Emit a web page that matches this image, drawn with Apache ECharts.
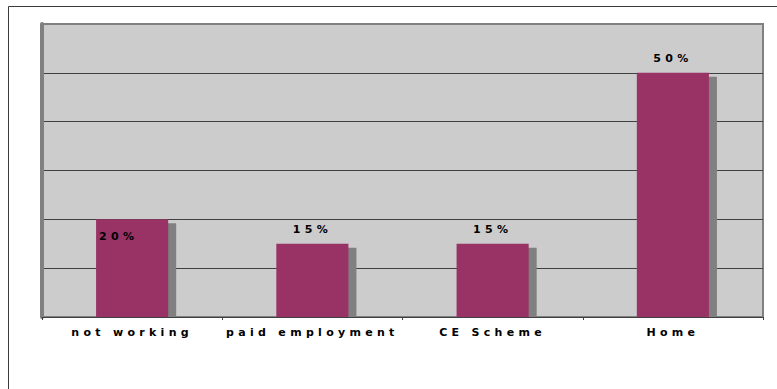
<!DOCTYPE html>
<html>
<head>
<meta charset="utf-8">
<script src="https://cdn.jsdelivr.net/npm/echarts@6/dist/echarts.min.js"></script>
<style>
  html, body { margin: 0; padding: 0; background: #fff; }
  #chart { width: 777px; height: 389px; }
  /* wide, spaced-out lettering for all chart text */
  #chart text { letter-spacing: 4.3px; }
</style>
</head>
<body>
<div id="chart"></div>
<script>
// Where people went: share of each outcome, in percent
const categories = ['not working', 'paid employment', 'CE Scheme', 'Home'];
const shares = [20, 15, 15, 50];
const yTicks = [0, 10, 20, 30, 40, 50, 60];

const FONT = 'DejaVu Sans';
const chart = echarts.init(document.getElementById('chart'), null, { renderer: 'svg' });

// bar data; the first label sits inside its bar near the top-left corner
const barData = shares.map((v, i) =>
  i === 0 ? { value: v, label: { position: [3, 12] } } : v
);

chart.setOption({
  animation: false,
  graphic: [{
    type: 'rect',
    silent: true,
    z: -10,
    shape: { x: 8.5, y: 6.5, width: 900, height: 500 },
    style: { fill: 'none', stroke: '#3a3a3a', lineWidth: 1 }
  }],
  grid: {
    left: 42, right: 14, top: 24, bottom: 72,
    show: true,
    backgroundColor: '#CCCCCC',
    borderColor: '#808080',
    borderWidth: 2
  },
  xAxis: {
    type: 'category',
    data: categories,
    axisLine: { show: true, lineStyle: { color: '#404040', width: 1 } },
    axisTick: { show: true, length: 3, lineStyle: { color: '#404040' } },
    axisLabel: {
      interval: 0,
      margin: 10,
      color: '#000',
      fontFamily: FONT,
      fontWeight: 'bold',
      fontSize: 11
    },
    z: 3
  },
  yAxis: {
    type: 'value',
    min: yTicks[0],
    max: yTicks[yTicks.length - 1],
    interval: yTicks[1] - yTicks[0],
    axisLabel: { show: false },
    axisTick: { show: false },
    axisLine: { show: true, lineStyle: { color: '#808080', width: 4 } },
    splitLine: {
      show: true,
      showMinLine: false,
      showMaxLine: false,
      lineStyle: { color: '#404040', width: 1 }
    }
  },
  series: [
    {
      // grey side panel behind each bar
      type: 'custom',
      z: 1,
      silent: true,
      encode: { x: 0, y: 1 },
      data: shares.map((v, i) => [i, v]),
      renderItem(params, api) {
        const top = api.coord([api.value(0), api.value(1)]);
        const base = api.coord([api.value(0), 0]);
        const w = api.size([1, 0])[0] * 0.4;
        return {
          type: 'rect',
          shape: { x: top[0] - w / 2 + 8, y: top[1] + 4, width: w, height: base[1] - top[1] - 4 },
          style: { fill: '#808080' }
        };
      }
    },
    {
      type: 'bar',
      z: 2,
      barWidth: '40%',
      data: barData,
      itemStyle: { color: '#993366' },
      label: {
        show: true,
        position: 'top',
        distance: 9,
        formatter: '{c}%',
        color: '#000',
        fontFamily: FONT,
        fontWeight: 'bold',
        fontSize: 11
      }
    }
  ]
});
</script>
</body>
</html>
